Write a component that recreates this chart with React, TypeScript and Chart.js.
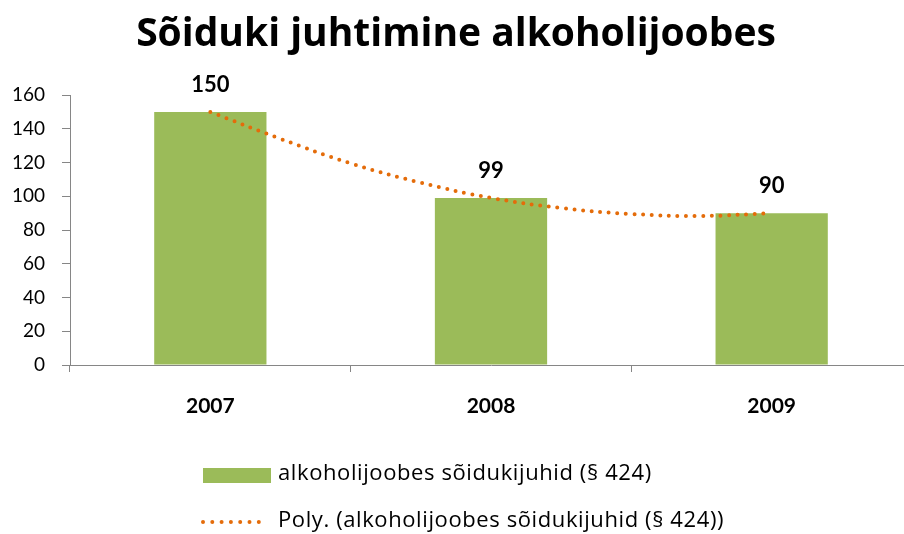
import React, { useEffect, useRef } from "react";
import { Chart, registerables } from "chart.js";

Chart.register(...registerables);

const title = "Sõiduki juhtimine alkoholijoobes";
const categories = ["2007", "2008", "2009"];
const values = [150, 99, 90];
const seriesName = "alkoholijoobes sõidukijuhid (§ 424)";
const trendName = "Poly. (alkoholijoobes sõidukijuhid (§ 424))";
// trendline at quarter-year steps
const trendYears = [2007, 2007.25, 2007.5, 2007.75, 2008, 2008.25, 2008.5, 2008.75, 2009];
const trendValues = [150, 134, 119.5, 108, 99, 93, 89.5, 88.3, 90];
const yMin = 0;
const yMax = 160;
const yStep = 20;

const FONT = "Lato, 'Open Sans', sans-serif";
const FONT2 = "'Open Sans', Lato, sans-serif";
const BAR = "#9BBB59";
const TREND = "#E46C0A";
const AXIS = "#868686";

const overlay = {
  id: "overlay",
  afterDatasetsDraw(chart: any) {
    const ctx = chart.ctx;
    const meta = chart.getDatasetMeta(0);
    ctx.save();
    ctx.fillStyle = "#000";
    ctx.font = `bold 22px ${FONT}`;
    ctx.textAlign = "center";
    ctx.textBaseline = "alphabetic";
    meta.data.forEach((bar: any, i: number) => {
      ctx.fillText(String(values[i]), bar.x, bar.y - 20);
    });
    ctx.restore();
  },
  afterDraw(chart: any) {
    const ctx = chart.ctx;
    ctx.save();
    // title
    ctx.fillStyle = "#000";
    ctx.font = `bold 39px ${FONT2}`;
    ctx.textAlign = "center";
    ctx.textBaseline = "alphabetic";
    ctx.fillText(title, 456, 46);
    // legend
    ctx.font = `22px ${FONT2}`;
    try {
      (ctx as any).letterSpacing = "0.6px";
    } catch (e) {}
    ctx.textAlign = "left";
    ctx.textBaseline = "middle";
    ctx.fillStyle = BAR;
    ctx.fillRect(203, 468, 68, 15);
    ctx.fillStyle = "#000";
    ctx.fillText(seriesName, 278, 474);
    ctx.strokeStyle = TREND;
    ctx.lineWidth = 4;
    ctx.lineCap = "round";
    ctx.setLineDash([0, 9.3]);
    ctx.beginPath();
    ctx.moveTo(203, 522);
    ctx.lineTo(268, 522);
    ctx.stroke();
    ctx.setLineDash([]);
    ctx.fillText(trendName, 278, 521);
    try {
      (ctx as any).letterSpacing = "0px";
    } catch (e) {}
    ctx.restore();
  },
};

export default function App() {
  const ref = useRef<HTMLCanvasElement>(null);
  useEffect(() => {
    if (!ref.current) return;
    const chart = new Chart(ref.current, {
      type: "bar",
      data: {
        labels: categories,
        datasets: [
          {
            type: "bar",
            label: seriesName,
            data: values,
            backgroundColor: BAR,
            borderWidth: 0,
            barPercentage: 0.4,
            categoryPercentage: 1,
            grouped: false,
            order: 1,
            xAxisID: "x",
          } as any,
          {
            type: "line",
            label: trendName,
            data: trendYears.map((x, i) => ({ x, y: trendValues[i] })),
            xAxisID: "x2",
            borderColor: TREND,
            borderWidth: 4,
            borderDash: [0, 8.6],
            borderCapStyle: "round",
            pointRadius: 0,
            tension: 0.4,
            fill: false,
            order: 0,
          } as any,
        ],
      },
      options: {
        responsive: false,
        animation: false,
        devicePixelRatio: 1,
        layout: { padding: { top: 95, bottom: 109, left: 0, right: 0 } },
        plugins: {
          legend: { display: false },
          title: { display: false },
          tooltip: { enabled: false },
        },
        scales: {
          x: {
            type: "category",
            offset: true,
            grid: {
              offset: true,
              drawOnChartArea: false,
              drawTicks: true,
              tickLength: 7,
              color: AXIS,
            },
            border: { display: true, color: AXIS, width: 1 },
            ticks: {
              color: "#000",
              font: { family: FONT, size: 21, weight: "bold" },
              padding: 22,
              maxRotation: 0,
            },
            afterFit: (s: any) => {
              s.height = 60;
            },
          },
          x2: {
            type: "linear",
            display: false,
            min: 2006.5,
            max: 2009.5,
            offset: false,
          },
          y: {
            min: yMin,
            max: yMax,
            ticks: {
              stepSize: yStep,
              color: "#000",
              font: { family: FONT, size: 19 },
              padding: 17,
            },
            grid: {
              drawOnChartArea: false,
              drawTicks: true,
              tickLength: 8,
              color: AXIS,
            },
            border: { display: true, color: AXIS, width: 1 },
            afterFit: (s: any) => {
              s.width = 70;
            },
          },
        },
      } as any,
      plugins: [overlay],
    });
    return () => chart.destroy();
  }, []);
  return (
    <div
      style={{
        position: "absolute",
        left: 0,
        top: 0,
        width: 904,
        height: 534,
        overflow: "hidden",
        background: "#fff",
      }}
    >
      <canvas ref={ref} width={912} height={534} style={{ display: "block" }} />
    </div>
  );
}
